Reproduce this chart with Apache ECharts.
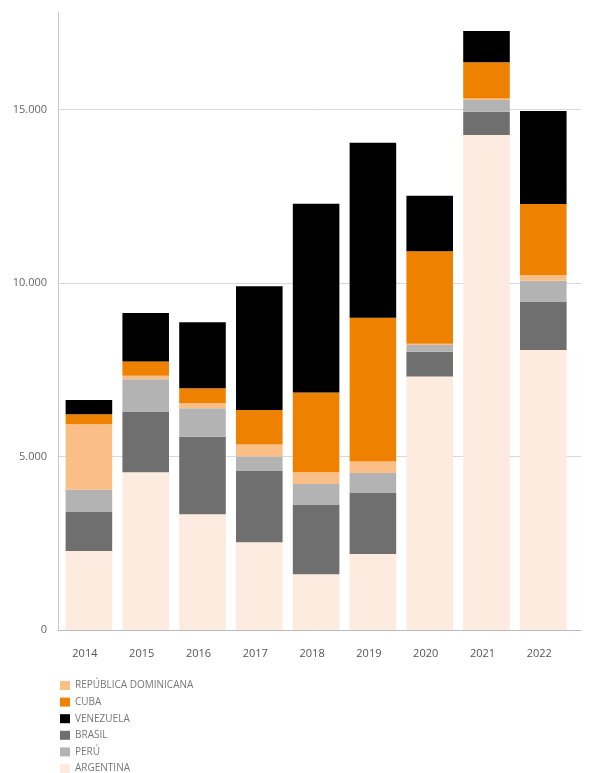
<!DOCTYPE html>
<html>
<head>
<meta charset="utf-8">
<script src="https://cdn.jsdelivr.net/npm/echarts@6/dist/echarts.min.js"></script>
<style>
html,body{margin:0;padding:0;background:#fff;}
#c{width:593px;height:773px;}
</style>
</head>
<body>
<div id="c"></div>
<script>
const years = ['2014','2015','2016','2017','2018','2019','2020','2021','2022'];
const argentina = [2280, 4550, 3340, 2530, 1610, 2190, 7310, 14270, 8070];
const brasil    = [1120, 1750, 2230, 2070, 2010, 1760,  710,   670, 1400];
const peru      = [ 640,  930,  820,  400,  590,  580,  200,   340,  600];
const repDom    = [1890,  100,  150,  350,  340,  330,   30,    40,  160];
const cuba      = [ 290,  410,  430,  990, 2300, 4140, 2670,  1050, 2050];
const venezuela = [ 410, 1400, 1900, 3570, 5440, 5050, 1600,   900, 2680];
const yTicks = [0, 5000, 10000, 15000];

const seriesDefs = [
  {name:'ARGENTINA', data:argentina, color:'#fdebe0'},
  {name:'BRASIL', data:brasil, color:'#6f6f6f'},
  {name:'PERÚ', data:peru, color:'#b3b3b3'},
  {name:'REPÚBLICA DOMINICANA', data:repDom, color:'#f9bf86'},
  {name:'CUBA', data:cuba, color:'#ee8200'},
  {name:'VENEZUELA', data:venezuela, color:'#000000'}
];

const YMAX = 17800;
const font = 'Open Sans';
const chart = echarts.init(document.getElementById('c'), null, {renderer:'canvas'});
const fmt = v => (yTicks.indexOf(v) >= 0 ? (v === 0 ? '0' : v.toLocaleString('de-DE')) : '');

chart.setOption({
  animation:false,
  backgroundColor:'#fff',
  grid:[
    {left:60.5, right:21.3, top:12.6, bottom:143},
    {left:58, right:12, top:12.6, bottom:143}
  ],
  legend:{
    orient:'vertical', left:60, top:680.5, height:140, padding:0,
    itemWidth:10, itemHeight:9, itemGap:6.6,
    icon:'rect',
    data:['REPÚBLICA DOMINICANA','CUBA','VENEZUELA','BRASIL','PERÚ','ARGENTINA'],
    textStyle:{fontFamily:font, fontSize:10, color:'#777', lineHeight:10, padding:[0,0,0,0]},
    itemStyle:{borderWidth:0}
  },
  xAxis:[
    {type:'category', gridIndex:0, data:years,
     axisLine:{show:false}, axisTick:{show:false},
     axisLabel:{fontFamily:font, fontSize:11, color:'#555', margin:18, padding:[0,8,0,0]}},
    {type:'value', gridIndex:1, min:0, max:1, show:true,
     axisLine:{show:true, lineStyle:{color:'#bbb', width:1}}, axisTick:{show:false},
     axisLabel:{show:false}, splitLine:{show:false}}
  ],
  yAxis:[
    {type:'value', gridIndex:0, min:0, max:YMAX, interval:5000, show:false, splitLine:{show:false}},
    {type:'value', gridIndex:1, min:0, max:YMAX, interval:5000,
     axisLine:{show:true, lineStyle:{color:'#c8c8c8', width:1}}, axisTick:{show:false},
     axisLabel:{fontFamily:font, fontSize:11, color:'#666', margin:11, formatter:fmt, showMaxLabel:false},
     splitLine:{show:true, lineStyle:{color:['#d9d9d9','#d9d9d9','#d9d9d9','#d9d9d9','rgba(0,0,0,0)'], width:1}}}
  ],
  series: seriesDefs.map(s => ({
    name:s.name, type:'bar', stack:'total', xAxisIndex:0, yAxisIndex:0,
    data:s.data, barWidth:'82%', itemStyle:{color:s.color}, emphasis:{disabled:true}
  }))
});
</script>
</body>
</html>
